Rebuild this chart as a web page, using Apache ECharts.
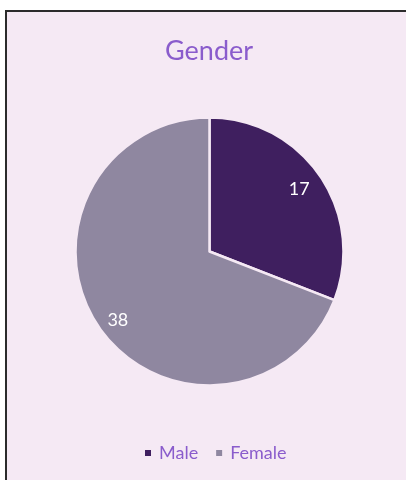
<!DOCTYPE html>
<html>
<head>
<meta charset="utf-8">
<script src="https://cdn.jsdelivr.net/npm/echarts@6/dist/echarts.min.js"></script>
<style>
  html, body { margin: 0; padding: 0; background: #ffffff; }
  #chart { width: 406px; height: 480px; }
</style>
</head>
<body>
<div id="chart"></div>
<script>
const categories = ['Male', 'Female']
const counts = [17, 38]
const colors = ['#3f1f5f', '#8f87a0']

const chart = echarts.init(document.getElementById('chart'), null, { renderer: 'canvas' })

const pieData = categories.map((name, i) => ({ name, value: counts[i], itemStyle: { color: colors[i] } }))

chart.setOption({
  backgroundColor: '#ffffff',
  animation: false,
  graphic: [
    { type: 'rect', z: -10, shape: { x: 5, y: 10, width: 401, height: 470 }, style: { fill: '#f5e9f4' } },
    { type: 'line', z: -5, shape: { x1: 6, y1: 10, x2: 6, y2: 480 }, style: { stroke: '#2b2b2b', lineWidth: 2 } },
    { type: 'line', z: -5, shape: { x1: 5, y1: 11, x2: 406, y2: 11 }, style: { stroke: '#2b2b2b', lineWidth: 2 } },
  ],
  title: {
    text: 'Gender',
    left: 160,
    top: 33,
    textStyle: { fontFamily: 'Lato', fontSize: 27, fontWeight: 'normal', color: '#8a5ccc' },
  },
  legend: {
    top: 439,
    left: 138,
    icon: 'rect',
    itemWidth: 8,
    itemHeight: 8,
    itemGap: 16,
    textStyle: { fontFamily: 'Lato', fontSize: 18, color: '#8a5ccc', padding: [0, 0, 0, 2] },
    data: categories,
  },
  series: [
    {
      type: 'pie',
      center: [209.5, 251.5],
      radius: 134,
      startAngle: 90,
      clockwise: true,
      label: { show: false },
      labelLine: { show: false },
      itemStyle: { borderColor: '#f5e9f4', borderWidth: 2.5 },
      emphasis: { disabled: true },
      data: pieData,
    },
    {
      // transparent ring used only to place the value labels near the rim
      type: 'pie',
      center: [209.5, 251.5],
      radius: [82, 134],
      startAngle: 90,
      clockwise: true,
      silent: true,
      legendHoverLink: false,
      itemStyle: { color: 'rgba(0,0,0,0)', borderWidth: 0 },
      label: {
        show: true,
        position: 'inside',
        formatter: '{c}',
        fontFamily: 'Lato',
        fontSize: 18,
        color: '#ffffff',
      },
      labelLine: { show: false },
      emphasis: { disabled: true },
      data: [
        { name: categories[0] + ' ', value: counts[0], label: { offset: [-2, 0] } },
        { name: categories[1] + ' ', value: counts[1], label: { offset: [0, 6] } },
      ],
    },
  ],
})
</script>
</body>
</html>
